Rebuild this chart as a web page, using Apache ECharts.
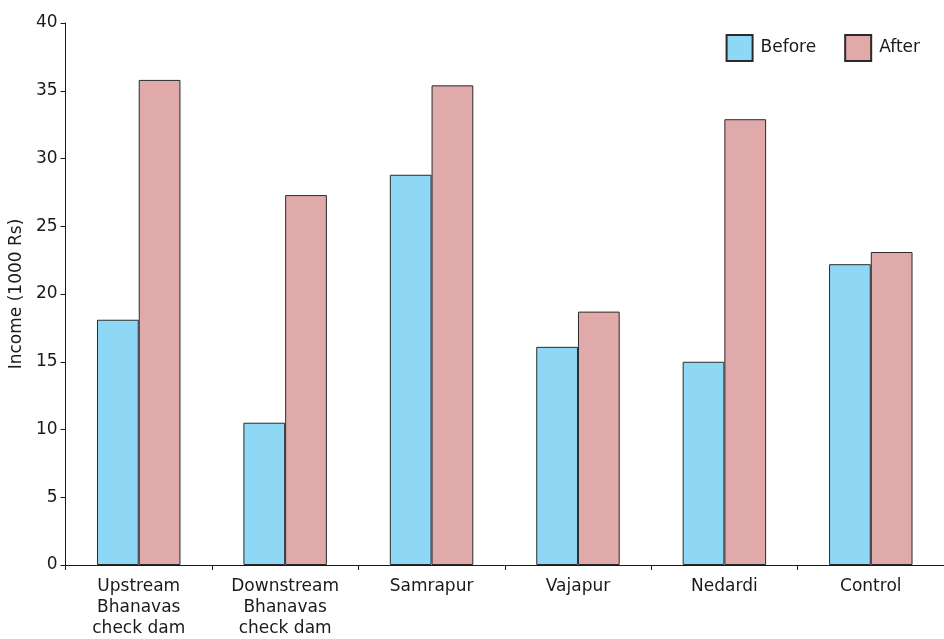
<!DOCTYPE html>
<html><head><meta charset="utf-8">
<script src="https://cdn.jsdelivr.net/npm/echarts@6/dist/echarts.min.js"></script>
<style>html,body{margin:0;padding:0;background:#fff}#c{width:944px;height:639px}</style>
</head><body><div id="c"></div>
<script>
const categories = ['Upstream\nBhanavas\ncheck dam', 'Downstream\nBhanavas\ncheck dam', 'Samrapur', 'Vajapur', 'Nedardi', 'Control'];
const before = [18.1, 10.5, 28.8, 16.1, 15.0, 22.2];
const after = [35.8, 27.3, 35.4, 18.7, 32.9, 23.1];
const yTicks = [0, 5, 10, 15, 20, 25, 30, 35, 40];

const font = '"DejaVu Sans", "Liberation Sans", Arial, sans-serif';
const chart = echarts.init(document.getElementById('c'), null, {renderer: 'canvas'});
chart.setOption({
  animation: false,
  backgroundColor: '#ffffff',
  textStyle: {fontFamily: font},
  grid: {left: 62, right: 0, top: 23, bottom: 72, containLabel: false},
  legend: {
    right: 24, top: 34, padding: 0, itemWidth: 26, itemHeight: 26, itemGap: 28, icon: 'rect',
    textStyle: {fontSize: 17, color: '#1a1a1a', fontFamily: font, padding: [0, 0, 0, 3]},
    data: [{name: 'Before'}, {name: 'After'}]
  },
  xAxis: {
    type: 'category', data: categories,
    axisLine: {lineStyle: {color: '#1a1a1a', width: 1}},
    axisTick: {show: true, length: 5, alignWithLabel: false, lineStyle: {color: '#1a1a1a'}},
    axisLabel: {fontSize: 17, color: '#1a1a1a', lineHeight: 21, margin: 11, interval: 0, fontFamily: font}
  },
  yAxis: {
    type: 'value', min: yTicks[0], max: yTicks[yTicks.length - 1], interval: 5,
    name: 'Income (1000 Rs)', nameLocation: 'middle', nameGap: 33, nameRotate: 90,
    nameTextStyle: {fontSize: 17, color: '#1a1a1a', fontFamily: font},
    axisLine: {show: true, lineStyle: {color: '#1a1a1a', width: 1}},
    axisTick: {show: true, inside: false, length: 5, lineStyle: {color: '#1a1a1a'}},
    axisLabel: {fontSize: 17, color: '#1a1a1a', margin: 8, fontFamily: font},
    splitLine: {show: false}
  },
  series: [
    {name: 'Before', type: 'bar', data: before, barGap: '0%', barCategoryGap: '43%',
     itemStyle: {color: '#8ed8f6', borderColor: '#2a2a2a', borderWidth: 1}},
    {name: 'After', type: 'bar', data: after, barGap: '0%', barCategoryGap: '43%',
     itemStyle: {color: '#e0a9aa', borderColor: '#2a2a2a', borderWidth: 1}}
  ]
});
</script></body></html>
